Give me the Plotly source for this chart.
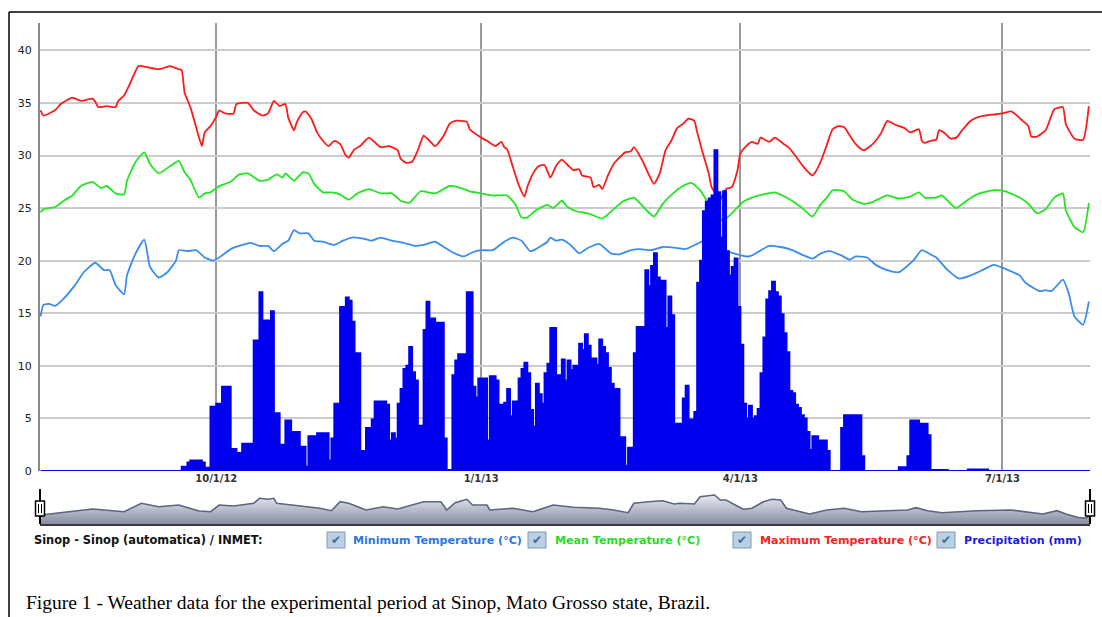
import plotly.graph_objects as go
import pandas as pd

BASE = pd.Timestamp("2012-08-01")

# ---------------- data (day offsets from 2012-08-01) ----------------
tmax_day = [0, 1, 5, 7, 11, 14, 18, 19, 20, 23, 26, 27, 29, 31, 34, 37, 41, 45, 48, 49,
            50, 52, 54, 56, 57, 59, 61, 62, 64, 67, 68, 72, 74, 77, 79, 81, 83, 85, 86, 88,
            89, 91, 92, 94, 96, 98, 100, 102, 104, 106, 107, 109, 111, 114, 118, 121, 124, 125, 127, 129,
            131, 133, 135, 137, 140, 142, 144, 148, 149, 153, 155, 158, 160, 161, 162, 164, 166, 168, 169, 171,
            173, 175, 177, 179, 181, 183, 185, 187, 188, 191, 192, 194, 195, 197, 199, 203, 205, 206, 209, 211,
            213, 215, 217, 219, 221, 223, 225, 227, 228, 230, 232, 233, 235, 236, 238, 240, 242, 243, 245, 247,
            249, 250, 253, 255, 258, 260, 262, 265, 268, 269, 271, 273, 275, 277, 279, 281, 283, 285, 286, 289,
            292, 294, 297, 300, 302, 305, 306, 307, 309, 311, 312, 314, 316, 318, 320, 323, 326, 328, 331, 334,
            337, 339, 341, 343, 344, 346, 349, 351, 352, 355, 356, 359, 362, 364]
tmax_c = [34.3, 33.8, 34.3, 34.9, 35.5, 35.2, 35.4, 35.1, 34.6, 34.7, 34.6, 35.2, 35.7, 36.8, 38.5, 38.4, 38.2, 38.5, 38.2, 38.1,
          36.0, 34.6, 32.7, 30.9, 32.2, 32.8, 33.7, 34.3, 34.0, 34.0, 34.9, 35.0, 34.3, 33.8, 34.0, 35.2, 34.7, 34.9, 33.6, 32.4,
          33.2, 34.1, 34.2, 33.5, 32.2, 31.4, 30.9, 31.4, 31.1, 30.0, 29.8, 30.6, 30.9, 31.7, 30.8, 30.9, 30.5, 29.7, 29.3, 29.4,
          30.5, 31.9, 31.4, 30.9, 31.9, 33.0, 33.3, 33.2, 32.5, 31.7, 31.4, 30.9, 31.3, 30.8, 30.6, 28.9, 27.2, 26.1, 27.0, 28.3,
          29.0, 29.1, 27.9, 29.0, 29.6, 29.1, 28.6, 28.7, 28.1, 27.9, 27.0, 27.2, 26.8, 28.1, 29.2, 30.3, 30.4, 30.8, 29.5, 28.3,
          27.3, 28.3, 30.5, 31.4, 32.6, 33.0, 33.5, 33.3, 32.2, 30.2, 28.3, 27.0, 26.2, 25.8, 26.8, 27.0, 28.6, 30.2, 30.9, 31.3,
          31.1, 31.7, 31.3, 31.7, 31.1, 30.7, 30.0, 28.9, 28.1, 28.4, 29.5, 31.0, 32.5, 32.8, 32.7, 31.9, 31.1, 30.6, 30.5, 31.1,
          32.2, 33.3, 32.9, 32.6, 32.2, 32.5, 31.4, 31.2, 31.4, 31.5, 32.4, 32.1, 31.6, 31.7, 32.4, 33.3, 33.7, 33.8, 33.9, 34.0,
          34.2, 33.8, 33.3, 32.8, 31.8, 31.8, 32.4, 33.8, 34.4, 34.6, 33.0, 31.6, 31.5, 34.7]

tmean_day = [0, 1, 5, 8, 11, 14, 18, 21, 23, 26, 29, 30, 33, 36, 38, 41, 45, 48, 50, 52,
             55, 57, 59, 62, 66, 69, 72, 76, 79, 82, 84, 85, 88, 91, 93, 95, 98, 101, 104, 107,
             110, 114, 118, 122, 125, 128, 132, 137, 142, 145, 149, 153, 157, 162, 165, 167, 169, 172, 176, 178,
             181, 183, 186, 190, 192, 195, 199, 202, 206, 210, 213, 216, 220, 223, 226, 229, 232, 235, 237, 240,
             244, 247, 251, 255, 259, 264, 268, 271, 273, 275, 279, 282, 286, 289, 294, 298, 302, 305, 307, 311,
             313, 316, 318, 322, 326, 331, 335, 340, 343, 346, 349, 352, 355, 356, 359, 362, 364]
tmean_c = [24.6, 24.9, 25.1, 25.7, 26.2, 27.1, 27.5, 26.9, 27.1, 26.4, 26.3, 27.6, 29.4, 30.3, 29.2, 28.3, 29.0, 29.5, 28.4, 27.7,
           26.0, 26.4, 26.5, 27.1, 27.5, 28.2, 28.3, 27.6, 27.7, 28.2, 27.9, 28.3, 27.6, 28.4, 28.3, 27.3, 26.5, 26.5, 26.3, 25.8,
           26.4, 26.8, 26.4, 26.4, 25.7, 25.5, 26.6, 26.4, 27.1, 27.0, 26.6, 26.4, 26.2, 26.2, 25.3, 24.1, 24.1, 24.8, 25.3, 25.0,
           25.7, 25.1, 24.7, 24.5, 24.3, 24.0, 24.9, 25.6, 26.0, 24.9, 24.2, 25.4, 26.5, 27.1, 27.4, 26.7, 25.4, 24.3, 23.8, 24.5,
           25.6, 26.0, 26.3, 26.5, 26.0, 25.1, 24.2, 25.4, 26.0, 26.7, 26.6, 25.8, 25.4, 25.6, 26.2, 25.9, 26.1, 26.5, 26.0, 26.0,
           26.2, 25.4, 25.0, 25.8, 26.4, 26.7, 26.6, 26.0, 25.4, 24.5, 24.9, 26.0, 26.4, 24.8, 23.2, 22.7, 25.5]

tmin_day = [0, 1, 3, 5, 8, 12, 15, 19, 22, 24, 26, 29, 30, 33, 36, 38, 41, 44, 47, 48,
            51, 54, 57, 60, 63, 66, 70, 73, 76, 79, 81, 84, 86, 88, 90, 93, 95, 98, 102, 105,
            108, 112, 115, 118, 122, 126, 130, 133, 137, 140, 143, 147, 150, 153, 157, 161, 164, 167, 170, 172,
            176, 177, 179, 181, 184, 187, 190, 194, 198, 201, 205, 208, 212, 216, 221, 224, 228, 231, 235, 238,
            242, 246, 249, 253, 257, 261, 265, 268, 271, 274, 278, 281, 283, 287, 290, 294, 298, 303, 306, 309,
            311, 315, 319, 323, 327, 331, 336, 340, 342, 347, 349, 351, 355, 357, 359, 362, 364]
tmin_c = [14.7, 15.8, 15.9, 15.7, 16.4, 17.7, 18.9, 19.8, 19.1, 19.1, 17.7, 16.8, 18.6, 20.7, 22.0, 19.4, 18.4, 18.9, 20.0, 21.0,
          20.9, 21.0, 20.3, 20.0, 20.5, 21.1, 21.5, 21.7, 21.4, 21.4, 20.9, 21.6, 21.9, 22.9, 22.6, 22.6, 21.9, 21.8, 21.5, 21.9,
          22.2, 22.1, 21.9, 22.2, 21.9, 21.7, 21.4, 21.5, 21.8, 21.3, 20.8, 20.4, 20.8, 21.0, 21.0, 21.8, 22.2, 21.9, 20.9, 21.1,
          21.8, 22.2, 21.9, 22.0, 21.5, 20.7, 21.2, 21.6, 20.7, 20.6, 21.0, 21.1, 21.0, 21.3, 21.2, 21.1, 21.6, 22.0, 21.8, 21.0,
          20.6, 20.4, 20.8, 21.4, 21.3, 21.0, 20.5, 20.2, 20.7, 20.9, 20.5, 20.1, 20.4, 20.3, 19.6, 19.1, 18.9, 20.0, 21.0, 20.6,
          20.3, 19.1, 18.3, 18.6, 19.1, 19.6, 19.1, 18.6, 17.9, 17.1, 17.2, 17.1, 18.2, 16.9, 14.7, 13.9, 16.1]

# precipitation: value holds from its start day until the next start day
precip_day = [0, 49, 51, 52, 56, 57, 59, 61, 63, 66, 68, 70, 74, 76, 77, 80, 81, 83, 85, 87,
              90, 92, 93, 96, 100, 101, 102, 104, 106, 107, 108, 109, 111, 113, 115, 116, 120, 121, 122, 123,
              124, 125, 126, 127, 128, 129, 130, 131, 133, 134, 135, 137, 140, 141, 143, 144, 145, 148, 150, 151,
              152, 155, 156, 158, 159, 161, 162, 163, 164, 166, 167, 168, 169, 170, 171, 172, 173, 174, 175, 176,
              177, 179, 180, 181, 182, 183, 184, 185, 187, 188, 189, 190, 191, 193, 194, 195, 196, 197, 198, 199,
              201, 203, 204, 206, 207, 210, 211, 212, 213, 214, 215, 217, 218, 219, 220, 223, 224, 225, 227, 228,
              229, 230, 231, 232, 233, 234, 235, 236, 237, 238, 239, 240, 241, 242, 243, 244, 245, 246, 247, 248,
              249, 250, 251, 252, 253, 254, 255, 256, 257, 258, 259, 260, 261, 262, 263, 264, 265, 266, 267, 268,
              270, 273, 274, 278, 279, 285, 286, 298, 301, 302, 305, 308, 309, 315, 322, 329, 365]
precip_mm = [0.0, 0.4, 0.8, 1.0, 0.8, 0.3, 6.1, 6.4, 8.0, 2.1, 1.7, 2.6, 12.4, 17.0, 14.3, 15.2, 5.5, 2.5, 4.8, 3.7,
             2.3, 0.4, 3.3, 3.6, 1.0, 3.1, 6.4, 15.6, 16.5, 16.2, 14.2, 11.2, 1.9, 4.1, 4.9, 6.6, 6.3, 2.9, 3.6, 3.1,
             6.4, 7.8, 9.7, 10.0, 11.8, 9.4, 8.6, 4.3, 13.4, 16.1, 14.5, 14.1, 3.1, 0.1, 9.1, 10.5, 11.1, 17.0, 8.0, 7.0,
             8.8, 2.9, 9.0, 8.6, 6.3, 6.5, 7.8, 5.2, 6.6, 8.8, 9.7, 10.3, 9.3, 5.8, 4.2, 8.3, 7.3, 6.4, 9.3, 10.2,
             13.6, 9.1, 9.1, 10.6, 8.6, 10.5, 9.6, 10.0, 12.1, 11.5, 13.0, 11.9, 10.7, 10.1, 12.5, 11.8, 11.2, 9.8, 8.3, 7.8,
             3.2, 0.5, 2.2, 11.2, 13.7, 19.1, 17.6, 19.5, 20.7, 18.4, 18.1, 13.6, 16.6, 14.8, 4.5, 6.9, 8.1, 4.9, 5.6, 17.9,
             20.0, 24.7, 25.6, 25.9, 26.2, 30.5, 26.5, 22.2, 26.6, 20.9, 18.6, 19.4, 20.2, 15.6, 12.0, 6.4, 5.0, 6.2, 5.0, 5.2,
             5.9, 9.3, 12.7, 16.3, 17.1, 18.0, 17.0, 16.6, 14.9, 13.1, 11.3, 7.6, 7.4, 6.3, 6.0, 5.3, 5.0, 3.7, 2.0, 3.3,
             2.9, 1.9, 0.0, 4.1, 5.3, 1.4, 0.0, 0.35, 1.4, 4.8, 4.5, 3.4, 0.1, 0.0, 0.15, 0.0, 0.0]

nav_day = [0, 9, 18, 29, 35, 41, 48, 55, 59, 62, 67, 74, 76, 79, 81, 82, 87, 93, 97, 101,
           104, 107, 111, 113, 119, 124, 133, 139, 141, 144, 148, 150, 155, 156, 164, 171, 178, 185, 194, 199,
           204, 206, 211, 216, 220, 222, 227, 229, 234, 236, 238, 240, 244, 247, 251, 254, 257, 259, 267, 273,
           279, 285, 296, 301, 304, 308, 313, 325, 337, 348, 353, 356, 360, 363, 364.4]
nav_level = [9, 12.3, 15, 12.3, 20.7, 17.3, 19, 13, 12.3, 19, 18, 20.7, 25.7, 24.7, 25.7, 20.7, 19, 17.3, 15.7, 13.3,
             22.3, 20.7, 15.7, 14, 17.3, 15, 22.3, 22.3, 14, 21.3, 24.7, 19, 19, 14, 15.7, 12.3, 19, 16.7, 15.7, 14,
             11.3, 20.7, 22.3, 23.3, 20, 20.7, 20, 27.3, 29, 24, 24, 20.7, 14.7, 15.7, 22.3, 24.7, 24, 15.7, 10, 14,
             15.7, 12.3, 13.3, 14, 16.3, 13.3, 11.3, 13.3, 14, 10, 13.3, 10, 6.7, 5.7, 9]

tick_dates = ["2012-10-01", "2013-01-01", "2013-04-01", "2013-07-01"]
tick_text = ["10/1/12", "1/1/13", "4/1/13", "7/1/13"]
y_ticks = [0, 5, 10, 15, 20, 25, 30, 35, 40]

station_label = "Sinop - Sinop (automatica) / INMET:"
series_names = ["Minimum Temperature (°C)", "Mean Temperature (°C)",
                "Maximum Temperature (°C)", "Precipitation (mm)"]
caption = "Figure 1 - Weather data for the experimental period at Sinop, Mato Grosso state, Brazil."

# ---------------- helpers ----------------
def to_dates(days):
    return [BASE + pd.Timedelta(days=float(d)) for d in days]

W, H = 1102, 617
ML, MR, MT, MB = 40, 12, 23, 93
PW, PH = W - ML - MR, H - MT - MB


def px(x):
    return (x - ML) / PW


def py(y):
    return (H - MB - y) / PH


C_MIN, C_MEAN, C_MAX, C_PR = "#3a8cee", "#22e622", "#ff1a1a", "#0000ee"

fig = go.Figure()

fig.add_trace(go.Scatter(x=to_dates(tmin_day), y=tmin_c, mode="lines",
                         line=dict(color=C_MIN, width=1.8, shape="spline", smoothing=0.5),
                         name=series_names[0]))
fig.add_trace(go.Scatter(x=to_dates(tmean_day), y=tmean_c, mode="lines",
                         line=dict(color=C_MEAN, width=1.8, shape="spline", smoothing=0.5),
                         name=series_names[1]))
fig.add_trace(go.Scatter(x=to_dates(tmax_day), y=tmax_c, mode="lines",
                         line=dict(color=C_MAX, width=1.8, shape="spline", smoothing=0.5),
                         name=series_names[2]))
fig.add_trace(go.Scatter(x=to_dates(precip_day), y=precip_mm, mode="lines",
                         line=dict(color=C_PR, width=2, shape="hv"),
                         fill="tozeroy", fillcolor=C_PR, name=series_names[3]))

# navigator
fig.add_trace(go.Scatter(x=to_dates(nav_day), y=nav_level, mode="lines",
                         line=dict(color="#5b6480", width=1.6),
                         fill="tozeroy",
                         fillgradient=dict(type="vertical", start=0, stop=28,
                                           colorscale=[[0, "#878da3"], [1, "#e6e8ef"]]),
                         xaxis="x2", yaxis="y2", showlegend=False))

x_range = [BASE - pd.Timedelta(hours=5), BASE + pd.Timedelta(days=364.4)]
main_bottom = py(471)
nav_top = py(488)

fig.update_layout(
    width=W, height=H,
    margin=dict(l=ML, r=MR, t=MT, b=MB),
    paper_bgcolor="white", plot_bgcolor="white",
    showlegend=False,
    xaxis=dict(range=x_range, domain=[0, 1], tickvals=tick_dates, ticktext=tick_text,
               showgrid=True, gridcolor="#9a9a9a", gridwidth=1.5, zeroline=False,
               showline=False, ticks="",
               tickfont=dict(family="DejaVu Sans", size=10, color="#333333", weight="bold"),
               anchor="y"),
    yaxis=dict(range=[0, 42.6], domain=[main_bottom, 1], tickvals=y_ticks,
               showgrid=True, gridcolor="#cccccc", gridwidth=1.5, zeroline=False,
               showline=True, linecolor="#8a8a8a", linewidth=2, ticks="",
               ticklabelstandoff=4,
               tickfont=dict(family="DejaVu Sans", size=11, color="#222222"),
               anchor="x"),
    xaxis2=dict(range=x_range, domain=[0, 1], anchor="y2", showgrid=False, zeroline=False,
                showticklabels=False, ticks="", showline=True, linecolor="#3a3a3a", linewidth=2),
    yaxis2=dict(range=[0, 36], domain=[0, nav_top], anchor="x2", showgrid=False,
                zeroline=False, showticklabels=False, ticks="", showline=False),
)

shapes = []
# outer frame of the figure image
shapes.append(dict(type="line", xref="paper", yref="paper", x0=px(9), x1=px(1102),
                   y0=py(12), y1=py(12), line=dict(color="black", width=1.5)))
shapes.append(dict(type="line", xref="paper", yref="paper", x0=px(9), x1=px(9),
                   y0=py(12), y1=py(617), line=dict(color="black", width=1.5)))
# navigator handles
for hx in (40, 1090):
    shapes.append(dict(type="line", xref="paper", yref="paper", x0=px(hx), x1=px(hx),
                       y0=py(489), y1=py(524), line=dict(color="black", width=2)))
    shapes.append(dict(type="rect", xref="paper", yref="paper", x0=px(hx - 4.5), x1=px(hx + 4.5),
                       y0=py(516), y1=py(501), fillcolor="white", line=dict(color="black", width=1.5)))
    for dx in (-1.5, 1.5):
        shapes.append(dict(type="line", xref="paper", yref="paper", x0=px(hx + dx), x1=px(hx + dx),
                           y0=py(504), y1=py(513), line=dict(color="black", width=1)))
# legend checkboxes
box_left = [327, 528, 733, 937]
for bx in box_left:
    shapes.append(dict(type="rect", xref="paper", yref="paper", x0=px(bx), x1=px(bx + 18),
                       y0=py(548), y1=py(532), fillcolor="#bcd0e3",
                       line=dict(color="#7d98b6", width=1)))
fig.update_layout(shapes=shapes)

ann = []
ann.append(dict(text=station_label, xref="paper", yref="paper", x=px(32), y=py(540),
                xanchor="left", yanchor="middle", showarrow=False,
                font=dict(family="DejaVu Sans", size=11.4, color="#111111", weight="bold")))
text_left = [351, 553, 758, 962]
text_col = ["#2a78e4", "#24dd24", "#ff2020", "#1c1ce0"]
for bx, tx, name, col in zip(box_left, text_left, series_names, text_col):
    ann.append(dict(text="✔", xref="paper", yref="paper", x=px(bx + 9), y=py(540),
                    xanchor="center", yanchor="middle", showarrow=False,
                    font=dict(family="DejaVu Sans", size=12, color="#3d6d9f")))
    ann.append(dict(text=name, xref="paper", yref="paper", x=px(tx), y=py(540),
                    xanchor="left", yanchor="middle", showarrow=False,
                    font=dict(family="DejaVu Sans", size=11.1, color=col, weight="bold")))
ann.append(dict(text=caption, xref="paper", yref="paper", x=px(24), y=py(602),
                xanchor="left", yanchor="middle", showarrow=False,
                font=dict(family="Liberation Serif", size=19.5, color="black")))
fig.update_layout(annotations=ann)

fig.write_html("out.html",
               config={"displayModeBar": False},
               post_script="document.body.style.margin='0px';document.body.style.padding='0px';"
                           "document.documentElement.style.overflow='hidden';")
